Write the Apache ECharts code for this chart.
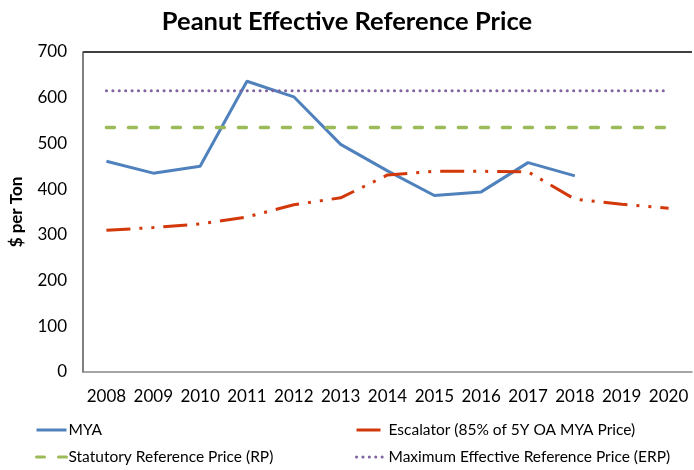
<!DOCTYPE html>
<html>
<head>
<meta charset="utf-8">
<script src="https://cdn.jsdelivr.net/npm/echarts@6/dist/echarts.min.js"></script>
<style>
  html, body { margin: 0; padding: 0; background: #fff; }
  #chart { width: 694px; height: 470px; }
</style>
</head>
<body>
<div id="chart"></div>
<script>
// 年份
const years = ['2008', '2009', '2010', '2011', '2012', '2013', '2014', '2015', '2016', '2017', '2018', '2019', '2020']
// 各系列数据
const mya = [461, 435, 450, 636, 602, 498, 440, 386, 394, 458, 429, null, null]
const escalator = [310, 316, 324, 339, 366, 381, 431, 439, 439, 438, 378, 367, 358]
const statutoryRP = [535, 535, 535, 535, 535, 535, 535, 535, 535, 535, 535, 535, 535]
const maxERP = [615, 615, 615, 615, 615, 615, 615, 615, 615, 615, 615, 615, 615]
const yTicks = [0, 100, 200, 300, 400, 500, 600, 700]

const font = 'Lato, "Open Sans", sans-serif'
const myChart = echarts.init(document.getElementById('chart'))

// 图例单独摆放，两列两行
function legendAt(name, left, top) {
    return {
        data: [name],
        left: left,
        top: top,
        itemWidth: 30,
        itemHeight: 14,
        itemGap: 4,
        selectedMode: false,
        itemStyle: { opacity: 0 },
        lineStyle: { width: 3 },
        textStyle: { fontFamily: font, fontSize: 15.5, color: '#000', padding: [0, 0, 0, -3] }
    }
}

const option = {
    animation: false,
    title: {
        text: 'Peanut Effective Reference Price',
        left: 'center',
        top: 4,
        textStyle: { fontFamily: font, fontSize: 25.5, fontWeight: 'bold', color: '#000' }
    },
    legend: [
        legendAt('MYA', 30, 417),
        legendAt('Escalator (85% of 5Y OA MYA Price)', 350, 417),
        legendAt('Statutory Reference Price (RP)', 30, 444),
        legendAt('Maximum Effective Reference Price (ERP)', 350, 444)
    ],
    grid: { left: 79, right: 2, top: 52, bottom: 98 },
    xAxis: {
        type: 'category',
        data: years,
        boundaryGap: true,
        axisLine: { lineStyle: { color: '#888', width: 1.5 } },
        axisTick: { show: false },
        axisLabel: { fontFamily: font, fontSize: 17, color: '#000', margin: 16, interval: 0 }
    },
    yAxis: {
        type: 'value',
        min: yTicks[0],
        max: yTicks[yTicks.length - 1],
        interval: 100,
        name: '$ per Ton',
        nameLocation: 'middle',
        nameGap: 58,
        nameTextStyle: { fontFamily: font, fontSize: 17, fontWeight: 'bold', color: '#000' },
        axisLine: { show: true, lineStyle: { color: '#555', width: 1.5 } },
        axisTick: { show: false },
        axisLabel: { fontFamily: font, fontSize: 17, color: '#000', margin: 16 },
        // 只保留顶部的边线
        splitLine: {
            show: true,
            lineStyle: {
                color: ['transparent', 'transparent', 'transparent', 'transparent',
                    'transparent', 'transparent', 'transparent', '#000'],
                width: 1.5
            }
        }
    },
    series: [
        {
            name: 'MYA',
            type: 'line',
            data: mya,
            symbol: 'none',
            lineStyle: { color: '#4F81BD', width: 3 },
            itemStyle: { color: '#4F81BD' }
        },
        {
            name: 'Escalator (85% of 5Y OA MYA Price)',
            type: 'line',
            data: escalator,
            symbol: 'none',
            lineStyle: { color: '#D2380A', width: 3, type: [24, 9, 3, 9, 3, 9] },
            itemStyle: { color: '#D2380A' }
        },
        {
            name: 'Statutory Reference Price (RP)',
            type: 'line',
            data: statutoryRP,
            symbol: 'none',
            lineStyle: { color: '#9BBB59', width: 3.5, type: [8, 14], cap: 'round' },
            itemStyle: { color: '#9BBB59' }
        },
        {
            name: 'Maximum Effective Reference Price (ERP)',
            type: 'line',
            data: maxERP,
            symbol: 'none',
            lineStyle: { color: '#8064A2', width: 3, type: [0.1, 6.3], cap: 'round' },
            itemStyle: { color: '#8064A2' }
        }
    ]
}

myChart.setOption(option, true)
</script>
</body>
</html>
